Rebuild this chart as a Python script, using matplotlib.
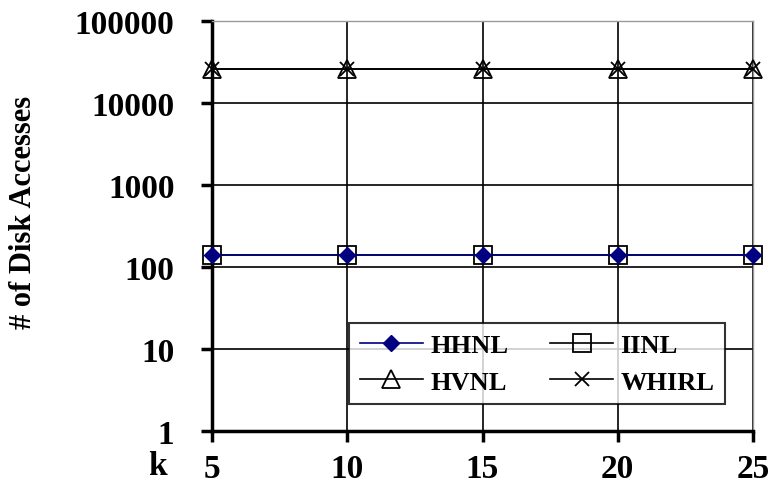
import matplotlib
matplotlib.use("Agg")
import matplotlib.pyplot as plt
from matplotlib.ticker import FixedLocator, FixedFormatter, NullLocator

k_values = [5, 10, 15, 20, 25]
hhnl = [140, 140, 140, 140, 140]
iinl = [140, 140, 140, 140, 140]
hvnl = [26000, 26000, 26000, 26000, 26000]
whirl = [26000, 26000, 26000, 26000, 26000]
y_ticks = [1, 10, 100, 1000, 10000, 100000]
y_tick_labels = ["1", "10", "100", "1000", "10000", "100000"]
series_names = ["HHNL", "IINL", "HVNL", "WHIRL"]

plt.rcParams['font.family'] = ['Liberation Serif', 'DejaVu Serif']
plt.rcParams['font.weight'] = 'bold'

fig = plt.figure(figsize=(7.72, 5.02), dpi=100)
ax = fig.add_axes([212/772, 70/502, 541/772, 410/502])

h1, = ax.plot(k_values, hhnl, color='#000080', lw=1.2, marker='D', ms=8,
              mfc='#000080', mec='#000080', label=series_names[0], zorder=5, clip_on=False)
h2, = ax.plot(k_values, iinl, color='black', lw=1.2, marker='s', ms=13,
              mfc='none', mec='black', mew=1.3, label=series_names[1], zorder=4, clip_on=False)
h3, = ax.plot(k_values, hvnl, color='black', lw=1.2, marker='^', ms=13,
              mfc='none', mec='black', mew=1.3, label=series_names[2], zorder=4, clip_on=False)
h4, = ax.plot(k_values, whirl, color='black', lw=1.2, marker='x', ms=10,
              mec='black', mew=1.3, label=series_names[3], zorder=5, clip_on=False)

ax.set_yscale('log')
ax.set_ylim(1, 100000)
ax.set_xlim(5, 25)
ax.yaxis.set_major_locator(FixedLocator(y_ticks))
ax.yaxis.set_major_formatter(FixedFormatter(y_tick_labels))
ax.yaxis.set_minor_locator(NullLocator())
ax.set_xticks(k_values)
ax.set_xticklabels([str(v) for v in k_values])

ax.grid(True, which='major', color='black', lw=1.2)
ax.set_axisbelow(True)

for s in ['left', 'bottom']:
    ax.spines[s].set_linewidth(2.5)
    ax.spines[s].set_color('black')
for s in ['top', 'right']:
    ax.spines[s].set_linewidth(1.0)
    ax.spines[s].set_color('#999999')

ax.tick_params(axis='both', direction='out', length=8, width=2.5, labelsize=24)
ax.tick_params(axis='y', pad=19)
ax.tick_params(axis='x', pad=8)
for lab in ax.get_xticklabels() + ax.get_yticklabels():
    lab.set_fontweight('bold')

ax.set_ylabel("# of Disk Accesses", fontsize=22, fontweight='bold')
ax.yaxis.set_label_coords(-(212 - 38) / 541, (432 - 212) / 410)
fig.text(157/772, 1 - 467/502, "k", fontsize=24, fontweight='bold',
         ha='center', va='center')

leg = ax.legend([h1, h3, h2, h4], [series_names[0], series_names[2], series_names[1], series_names[3]],
                loc='upper left', bbox_to_anchor=((349 - 212) / 541, (432 - 324) / 410),
                ncol=2, fontsize=19, frameon=True, fancybox=False,
                edgecolor='black', handlelength=2.42, handletextpad=0.27,
                borderpad=0.4, labelspacing=0.5, columnspacing=1.55,
                borderaxespad=0)
leg.get_frame().set_linewidth(1.5)
leg.set_zorder(10)
for t in leg.get_texts():
    t.set_fontweight('bold')

fig.savefig("out.png", dpi=100)
